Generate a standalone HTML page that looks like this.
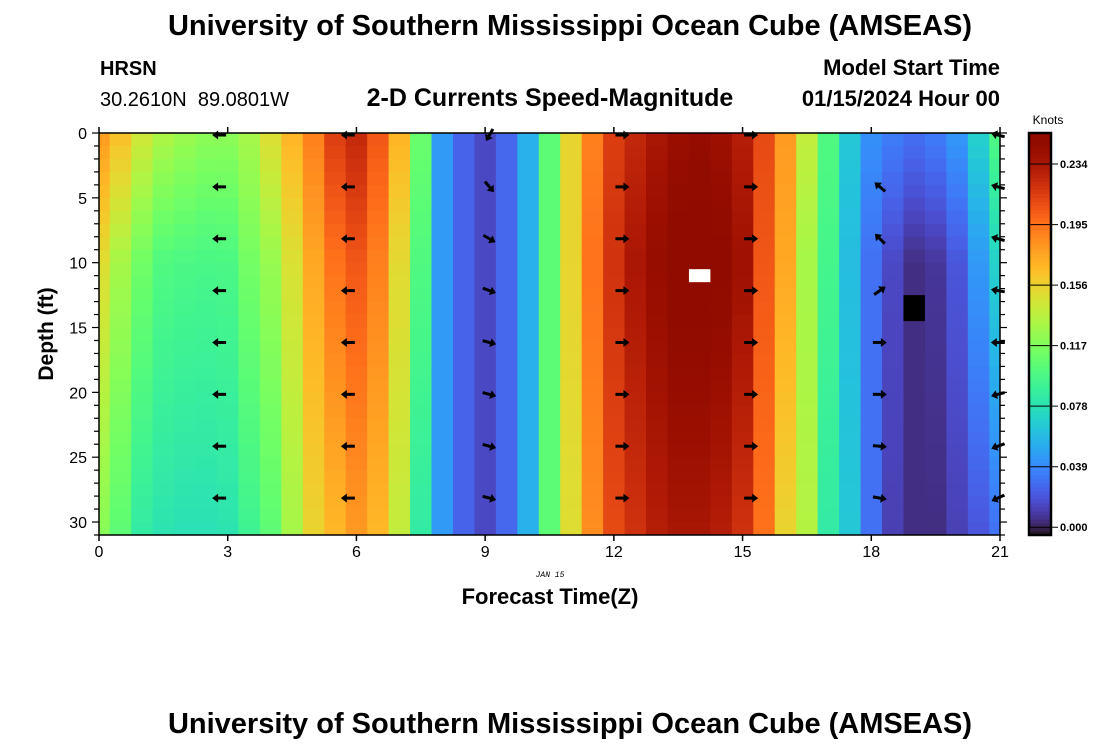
<!DOCTYPE html>
<html><head><meta charset="utf-8"><style>
body{margin:0;background:#fff;width:1100px;height:750px;overflow:hidden}
svg text{font-family:"Liberation Sans",sans-serif}
</style></head><body>
<svg id="chart" width="1100" height="750" xmlns="http://www.w3.org/2000/svg">
<text x="570" y="35" text-anchor="middle" font-size="29" font-weight="bold">University of Southern Mississippi Ocean Cube (AMSEAS)</text>
<text x="100" y="75" font-size="20" font-weight="bold">HRSN</text>
<text x="100" y="106" font-size="20" style="white-space:pre" xml:space="preserve">30.2610N  89.0801W</text>
<text x="550" y="106" text-anchor="middle" font-size="25" font-weight="bold">2-D Currents Speed-Magnitude</text>
<text x="1000" y="75" text-anchor="end" font-size="22" font-weight="bold">Model Start Time</text>
<text x="1000" y="106" text-anchor="end" font-size="22" font-weight="bold">01/15/2024 Hour 00</text>
<g id="cells"></g>
<g id="markers"></g>
<g id="arrows"></g>
<g id="axes"></g>
<text transform="translate(53,334) rotate(-90)" text-anchor="middle" font-size="21" font-weight="bold">Depth (ft)</text>
<text x="550" y="604" text-anchor="middle" font-size="22" font-weight="bold">Forecast Time(Z)</text>
<text x="550" y="577" text-anchor="middle" font-size="8" font-style="italic" style="font-family:'Liberation Mono',monospace">JAN 15</text>
<text x="1048" y="124" text-anchor="middle" font-size="12">Knots</text>
<g id="cbar"></g>
<text x="570" y="733" text-anchor="middle" font-size="29" font-weight="bold">University of Southern Mississippi Ocean Cube (AMSEAS)</text>
</svg>
<script>
// hours of each column (0..21 by 0.5)
const hours = Array.from({length:43},(_, i)=>i*0.5);
const levelDepths = [0, 10, 31];
// speed (knots) at surface / 10 ft / bottom for each column
const speedTop = [0.18,0.165,0.145,0.133,0.127,0.122,0.122,0.13,0.15,0.17,0.19,0.215,0.225,0.205,0.17,0.11,0.045,0.025,0.015,0.027,0.055,0.105,0.155,0.19,0.215,0.225,0.235,0.242,0.245,0.24,0.23,0.21,0.18,0.14,0.1,0.065,0.042,0.035,0.03,0.035,0.045,0.07,0.1];
const speedMid = [0.15,0.13,0.112,0.1,0.098,0.097,0.098,0.113,0.125,0.148,0.175,0.195,0.205,0.19,0.152,0.1,0.045,0.025,0.015,0.027,0.055,0.105,0.155,0.195,0.22,0.235,0.245,0.254,0.254,0.252,0.24,0.205,0.175,0.13,0.095,0.06,0.03,0.015,0.005,0.008,0.02,0.045,0.07];
const speedBot = [0.12,0.105,0.085,0.08,0.078,0.078,0.08,0.092,0.105,0.13,0.155,0.168,0.18,0.168,0.14,0.085,0.045,0.025,0.015,0.027,0.055,0.105,0.15,0.185,0.21,0.22,0.23,0.235,0.235,0.23,0.22,0.195,0.155,0.135,0.085,0.065,0.03,0.012,0.005,0.005,0.012,0.02,0.03];
const cbTicks = [0.000,0.039,0.078,0.117,0.156,0.195,0.234];
const xTicks = [0,3,6,9,12,15,18,21];
const yTicks = [0,5,10,15,20,25,30];
// vectors: hours, depths, angle (deg, 0=east, ccw positive) per hour column per depth
const arrowHours = [2.8,5.8,9.1,12.2,15.2,18.2,20.95];
const arrowDepths = [0,4,8,12,16,20,24,28];
const arrowAngles = [
 [180,180,180,180,180,180,180,180],
 [180,180,180,180,180,180,180,180],
 [240,-50,-30,-20,-15,-15,-15,-15],
 [0,0,0,0,0,0,0,0],
 [0,0,0,0,0,0,0,0],
 [null,140,135,35,0,0,-5,-10],
 [165,165,165,170,180,195,200,205]
];
const maxMark = {h:14, d:11};
const minMark = {h:19, d:13.5};

const NS='http://www.w3.org/2000/svg';
const X0=99,X1=1000,Y0=133,Y1=535;
const xs=h=>X0+h/21*(X1-X0);
const ys=d=>Y0+d/31*(Y1-Y0);
const VMIN=-0.005,VMAX=0.254;
function turbo(t){t=Math.max(0,Math.min(1,t));
 const r=34.61+t*(1172.33-t*(10793.56-t*(33300.12-t*(38394.49-t*14825.05))));
 const g=23.31+t*(557.33+t*(1225.33-t*(3574.96-t*(1073.77+t*707.56))));
 const b=27.2+t*(3211.1-t*(15327.97-t*(27814-t*(22569.18-t*6838.66))));
 const c=v=>Math.max(0,Math.min(255,Math.round(v)));
 return `rgb(${c(r)},${c(g)},${c(b)})`;}
const col=v=>turbo((v-VMIN)/(VMAX-VMIN));
function mk(tag,attrs,parent){const e=document.createElementNS(NS,tag);for(const k in attrs)e.setAttribute(k,attrs[k]);parent.appendChild(e);return e;}
function speedAt(i,d){
 if(d<=levelDepths[1]){const f=d/levelDepths[1];return speedTop[i]*(1-f)+speedMid[i]*f;}
 const f=(d-levelDepths[1])/(levelDepths[2]-levelDepths[1]);return speedMid[i]*(1-f)+speedBot[i]*f;}
const cells=document.getElementById('cells');
hours.forEach((h,i)=>{
 const xa=Math.max(X0,xs(h-0.25)),xb=Math.min(X1,xs(h+0.25));
 for(let d=0;d<31;d++){
  const r=mk('rect',{x:xa.toFixed(2),y:ys(d).toFixed(2),width:(xb-xa+0.5).toFixed(2),height:(ys(d+1)-ys(d)+0.5).toFixed(2),fill:col(speedAt(i,d+0.5))},cells);
  
  
 }
});
const mg=document.getElementById('markers');
let m1=mk('rect',{x:xs(maxMark.h-0.25),y:ys(maxMark.d-0.5),width:xs(0.5)-X0,height:13,fill:'#fff'},mg);


let m2=mk('rect',{x:xs(minMark.h-0.25),y:ys(minMark.d-1),width:xs(0.5)-X0,height:26,fill:'#000'},mg);


const ag=document.getElementById('arrows');
arrowHours.forEach((h,i)=>arrowDepths.forEach((d,j)=>{
 const a=arrowAngles[i][j];if(a===null)return;
 const cx=xs(h),cy=ys(d)+2;
 const g=mk('g',{transform:`translate(${cx},${cy}) rotate(${-a})`},ag);
 
 
 mk('line',{x1:-7,y1:0,x2:3,y2:0,stroke:'#000','stroke-width':3},g);
 mk('polygon',{points:'7,0 1,-4.5 1,4.5',fill:'#000'},g);
}));
const ax=document.getElementById('axes');
mk('rect',{x:X0,y:Y0,width:X1-X0,height:Y1-Y0,fill:'none',stroke:'#000','stroke-width':1.5},ax);
xTicks.forEach(t=>{const x=xs(t);
 mk('line',{x1:x,y1:Y1,x2:x,y2:Y1+6,stroke:'#000','stroke-width':1.5},ax);
 mk('line',{x1:x,y1:Y0,x2:x,y2:Y0-6,stroke:'#000','stroke-width':1.5},ax);
 const tx=mk('text',{x:x,y:Y1+22,'text-anchor':'middle','font-size':16},ax);tx.textContent=t;
 
 });
for(let d=0;d<=31;d++){const y=ys(d);const L=d%5===0?7:5;
 mk('line',{x1:X0-L,y1:y,x2:X0,y2:y,stroke:'#000','stroke-width':1.2},ax);
 mk('line',{x1:X1,y1:y,x2:X1+L,y2:y,stroke:'#000','stroke-width':1.2},ax);}
yTicks.forEach(t=>{const tx=mk('text',{x:X0-12,y:ys(t)+6,'text-anchor':'end','font-size':16},ax);tx.textContent=t;
 
 });
const cb=document.getElementById('cbar');
const CB0=133,CB1=535,cy=v=>CB1-(v-VMIN)/(VMAX-VMIN)*(CB1-CB0);
for(let k=0;k<100;k++){const v=VMIN+(k+0.5)/100*(VMAX-VMIN);
 mk('rect',{x:1029,y:(CB1-(k+1)*(CB1-CB0)/100).toFixed(2),width:22,height:((CB1-CB0)/100+0.6).toFixed(2),fill:col(v)},cb);}
mk('rect',{x:1029,y:CB0,width:22,height:CB1-CB0,fill:'none',stroke:'#000','stroke-width':2.5},cb);
cbTicks.forEach(t=>{const y=cy(t);
 mk('line',{x1:1029,y1:y,x2:1058,y2:y,stroke:'#000','stroke-width':1},cb);
 const tx=mk('text',{x:1060,y:y+4,'font-size':11,'font-weight':'bold'},cb);tx.textContent=t.toFixed(3);
 
 });
</script>
</body></html>
